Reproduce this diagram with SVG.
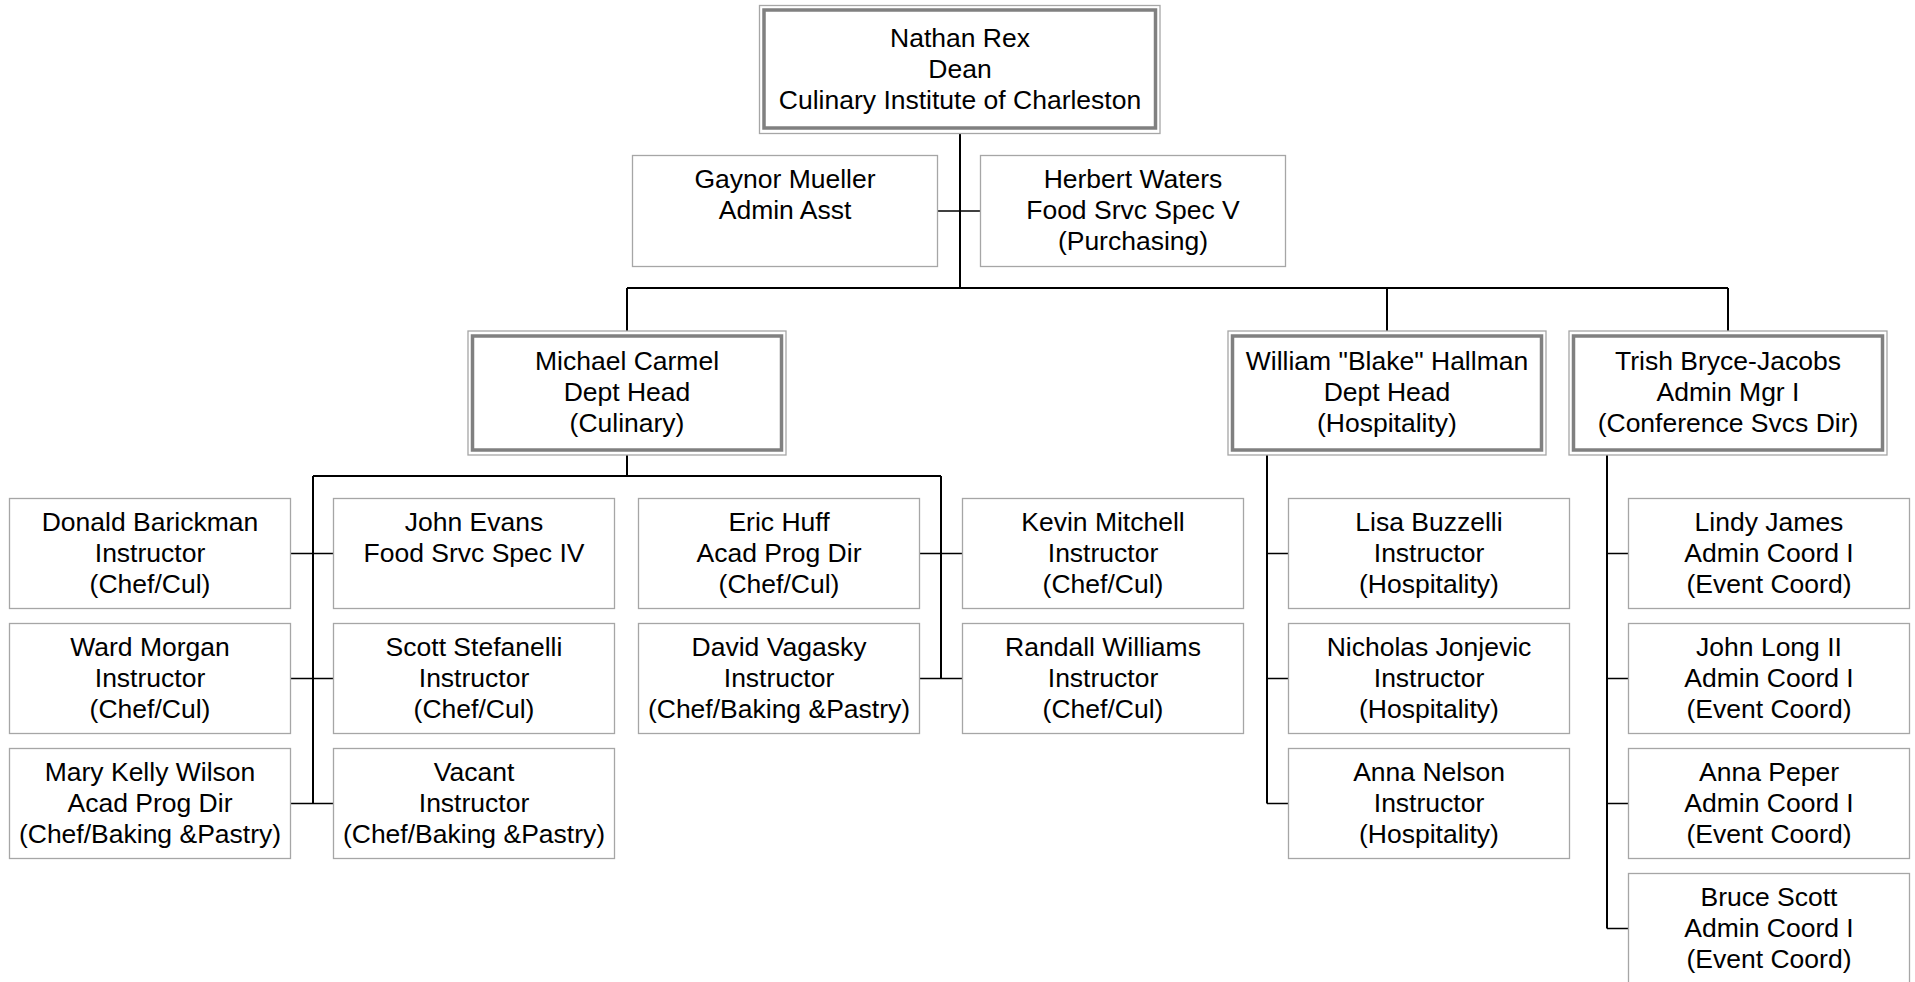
<svg xmlns="http://www.w3.org/2000/svg" width="1915" height="982" viewBox="0 0 1915 982">
<style>
.box{fill:#fff;stroke:#a6a6a6;stroke-width:1.3}
.ho{fill:#fff;stroke:#a6a6a6;stroke-width:1.3}
.hi{fill:none;stroke:#808080;stroke-width:3.5}
.t{font-family:"Liberation Sans",Arial,sans-serif;font-size:26.5px;text-anchor:middle;fill:#000}
.ln{stroke:#000;stroke-width:2;fill:none}
.st{stroke:#000;stroke-width:1.5;fill:none}
</style>
<rect width="1915" height="982" fill="#fff"/>
<g id="connectors">
<path class="ln" d="M960,134V288M627,288H1728M627,288V331M1387,288V331M1728,288V331"/>
<path class="st" d="M938,211H980"/>
<path class="ln" d="M627,455V476M313,476H941M313,476V803.5M941,476V678.5"/>
<path class="st" d="M291,553.5H333M291,678.5H333M291,803.5H333M919,553.5H962M919,678.5H962"/>
<path class="ln" d="M1267,455V803.5"/>
<path class="st" d="M1267,553.5H1288M1267,678.5H1288M1267,803.5H1288"/>
<path class="ln" d="M1607,455V928.5"/>
<path class="st" d="M1607,553.5H1628M1607,678.5H1628M1607,803.5H1628M1607,928.5H1628"/>
</g>
<g id="dean">
<rect class="ho" x="759.5" y="5.5" width="400.5" height="128"/>
<rect class="hi" x="764" y="10" width="391.5" height="118"/>
<text class="t"><tspan x="960" y="47">Nathan Rex</tspan><tspan x="960" y="78">Dean</tspan><tspan x="960" y="109">Culinary Institute of Charleston</tspan></text>
</g>
<g id="gaynor">
<rect class="box" x="632.5" y="155.5" width="305" height="111"/>
<text class="t"><tspan x="785" y="187.5">Gaynor Mueller</tspan><tspan x="785" y="218.5">Admin Asst</tspan></text>
</g>
<g id="herbert">
<rect class="box" x="980.5" y="155.5" width="305" height="111"/>
<text class="t"><tspan x="1133" y="187.5">Herbert Waters</tspan><tspan x="1133" y="218.5">Food Srvc Spec V</tspan><tspan x="1133" y="249.5">(Purchasing)</tspan></text>
</g>
<g id="michael">
<rect class="ho" x="468" y="331" width="318" height="124"/>
<rect class="hi" x="472.5" y="336" width="309" height="114"/>
<text class="t"><tspan x="627" y="370">Michael Carmel</tspan><tspan x="627" y="401">Dept Head</tspan><tspan x="627" y="432">(Culinary)</tspan></text>
</g>
<g id="william">
<rect class="ho" x="1228" y="331" width="318" height="124"/>
<rect class="hi" x="1232.5" y="336" width="309" height="114"/>
<text class="t"><tspan x="1387" y="370">William "Blake" Hallman</tspan><tspan x="1387" y="401">Dept Head</tspan><tspan x="1387" y="432">(Hospitality)</tspan></text>
</g>
<g id="trish">
<rect class="ho" x="1569" y="331" width="318" height="124"/>
<rect class="hi" x="1573.5" y="336" width="309" height="114"/>
<text class="t"><tspan x="1728" y="370">Trish Bryce-Jacobs</tspan><tspan x="1728" y="401">Admin Mgr I</tspan><tspan x="1728" y="432">(Conference Svcs Dir)</tspan></text>
</g>
<g id="donald">
<rect class="box" x="9.5" y="498.5" width="281" height="110"/>
<text class="t"><tspan x="150" y="530.5">Donald Barickman</tspan><tspan x="150" y="561.5">Instructor</tspan><tspan x="150" y="592.5">(Chef/Cul)</tspan></text>
</g>
<g id="ward">
<rect class="box" x="9.5" y="623.5" width="281" height="110"/>
<text class="t"><tspan x="150" y="655.5">Ward Morgan</tspan><tspan x="150" y="686.5">Instructor</tspan><tspan x="150" y="717.5">(Chef/Cul)</tspan></text>
</g>
<g id="mary">
<rect class="box" x="9.5" y="748.5" width="281" height="110"/>
<text class="t"><tspan x="150" y="780.5">Mary Kelly Wilson</tspan><tspan x="150" y="811.5">Acad Prog Dir</tspan><tspan x="150" y="842.5">(Chef/Baking &amp;Pastry)</tspan></text>
</g>
<g id="john-evans">
<rect class="box" x="333.5" y="498.5" width="281" height="110"/>
<text class="t"><tspan x="474" y="530.5">John Evans</tspan><tspan x="474" y="561.5">Food Srvc Spec IV</tspan></text>
</g>
<g id="scott">
<rect class="box" x="333.5" y="623.5" width="281" height="110"/>
<text class="t"><tspan x="474" y="655.5">Scott Stefanelli</tspan><tspan x="474" y="686.5">Instructor</tspan><tspan x="474" y="717.5">(Chef/Cul)</tspan></text>
</g>
<g id="vacant">
<rect class="box" x="333.5" y="748.5" width="281" height="110"/>
<text class="t"><tspan x="474" y="780.5">Vacant</tspan><tspan x="474" y="811.5">Instructor</tspan><tspan x="474" y="842.5">(Chef/Baking &amp;Pastry)</tspan></text>
</g>
<g id="eric">
<rect class="box" x="638.5" y="498.5" width="281" height="110"/>
<text class="t"><tspan x="779" y="530.5">Eric Huff</tspan><tspan x="779" y="561.5">Acad Prog Dir</tspan><tspan x="779" y="592.5">(Chef/Cul)</tspan></text>
</g>
<g id="david">
<rect class="box" x="638.5" y="623.5" width="281" height="110"/>
<text class="t"><tspan x="779" y="655.5">David Vagasky</tspan><tspan x="779" y="686.5">Instructor</tspan><tspan x="779" y="717.5">(Chef/Baking &amp;Pastry)</tspan></text>
</g>
<g id="kevin">
<rect class="box" x="962.5" y="498.5" width="281" height="110"/>
<text class="t"><tspan x="1103" y="530.5">Kevin Mitchell</tspan><tspan x="1103" y="561.5">Instructor</tspan><tspan x="1103" y="592.5">(Chef/Cul)</tspan></text>
</g>
<g id="randall">
<rect class="box" x="962.5" y="623.5" width="281" height="110"/>
<text class="t"><tspan x="1103" y="655.5">Randall Williams</tspan><tspan x="1103" y="686.5">Instructor</tspan><tspan x="1103" y="717.5">(Chef/Cul)</tspan></text>
</g>
<g id="lisa">
<rect class="box" x="1288.5" y="498.5" width="281" height="110"/>
<text class="t"><tspan x="1429" y="530.5">Lisa Buzzelli</tspan><tspan x="1429" y="561.5">Instructor</tspan><tspan x="1429" y="592.5">(Hospitality)</tspan></text>
</g>
<g id="nicholas">
<rect class="box" x="1288.5" y="623.5" width="281" height="110"/>
<text class="t"><tspan x="1429" y="655.5">Nicholas Jonjevic</tspan><tspan x="1429" y="686.5">Instructor</tspan><tspan x="1429" y="717.5">(Hospitality)</tspan></text>
</g>
<g id="anna-nelson">
<rect class="box" x="1288.5" y="748.5" width="281" height="110"/>
<text class="t"><tspan x="1429" y="780.5">Anna Nelson</tspan><tspan x="1429" y="811.5">Instructor</tspan><tspan x="1429" y="842.5">(Hospitality)</tspan></text>
</g>
<g id="lindy">
<rect class="box" x="1628.5" y="498.5" width="281" height="110"/>
<text class="t"><tspan x="1769" y="530.5">Lindy James</tspan><tspan x="1769" y="561.5">Admin Coord I</tspan><tspan x="1769" y="592.5">(Event Coord)</tspan></text>
</g>
<g id="john-long">
<rect class="box" x="1628.5" y="623.5" width="281" height="110"/>
<text class="t"><tspan x="1769" y="655.5">John Long II</tspan><tspan x="1769" y="686.5">Admin Coord I</tspan><tspan x="1769" y="717.5">(Event Coord)</tspan></text>
</g>
<g id="anna-peper">
<rect class="box" x="1628.5" y="748.5" width="281" height="110"/>
<text class="t"><tspan x="1769" y="780.5">Anna Peper</tspan><tspan x="1769" y="811.5">Admin Coord I</tspan><tspan x="1769" y="842.5">(Event Coord)</tspan></text>
</g>
<g id="bruce">
<rect class="box" x="1628.5" y="873.5" width="281" height="110"/>
<text class="t"><tspan x="1769" y="905.5">Bruce Scott</tspan><tspan x="1769" y="936.5">Admin Coord I</tspan><tspan x="1769" y="967.5">(Event Coord)</tspan></text>
</g>
</svg>
